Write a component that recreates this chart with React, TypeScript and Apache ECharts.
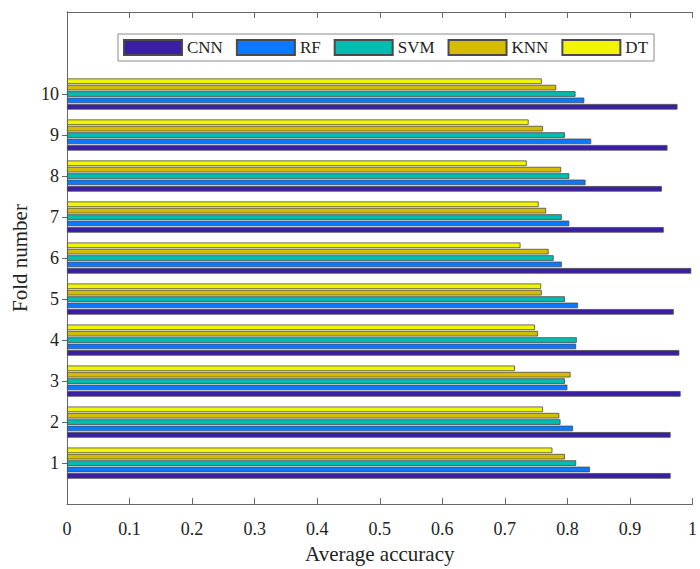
import React, { useEffect, useRef } from "react";
import * as echarts from "echarts";

// Fold numbers and the average accuracy of each classifier per fold
const folds = ["1", "2", "3", "4", "5", "6", "7", "8", "9", "10"];
const cnn = [0.965, 0.965, 0.981, 0.979, 0.97, 0.998, 0.954, 0.951, 0.96, 0.976];
const rf = [0.836, 0.809, 0.8, 0.814, 0.817, 0.791, 0.803, 0.829, 0.838, 0.827];
const svm = [0.814, 0.789, 0.796, 0.815, 0.796, 0.778, 0.791, 0.803, 0.796, 0.813];
const knn = [0.796, 0.787, 0.805, 0.753, 0.759, 0.77, 0.766, 0.79, 0.761, 0.782];
const dt = [0.776, 0.761, 0.716, 0.748, 0.758, 0.725, 0.754, 0.735, 0.738, 0.759];
const xTicks = ["0", "0.1", "0.2", "0.3", "0.4", "0.5", "0.6", "0.7", "0.8", "0.9", "1"];

const seriesDefs = [
  { name: "DT", values: dt, color: "#f2f500" },
  { name: "KNN", values: knn, color: "#d4bd00" },
  { name: "SVM", values: svm, color: "#00bdb0" },
  { name: "RF", values: rf, color: "#0a78ff" },
  { name: "CNN", values: cnn, color: "#3b1ea6" },
];
const legendOrder = ["CNN", "RF", "SVM", "KNN", "DT"];

// y runs from 0 to 12: fold slots 1..10 plus empty room below and above (legend)
const yCats = ["", ...folds, "", ""];
const isFold = (i: number) => i >= 1 && i <= folds.length;

const FONT = "Liberation Serif";

export default function App() {
  const ref = useRef<HTMLDivElement>(null);
  useEffect(() => {
    document.body.style.margin = "0";
    const chart = echarts.init(ref.current!, null, { renderer: "svg" });
    const frame = "#686868";
    chart.setOption({
      animation: false,
      backgroundColor: "#ffffff",
      textStyle: { fontFamily: FONT, color: "#222" },
      grid: { left: 67, top: 12, width: 634, height: 501, containLabel: false },
      legend: {
        data: legendOrder,
        left: 118,
        top: 34,
        itemWidth: 58,
        itemHeight: 15,
        itemGap: 13,
        padding: [5, 6, 5, 5],
        borderColor: "#8a8a8a",
        borderWidth: 1,
        backgroundColor: "#fff",
        icon: "rect",
        textStyle: { fontFamily: FONT, fontSize: 17, color: "#222", lineHeight: 17 },
      },
      xAxis: [
        {
          type: "value",
          min: 0,
          max: 1,
          interval: 0.1,
          name: "Average accuracy",
          nameLocation: "middle",
          nameGap: 37,
          nameTextStyle: { fontFamily: FONT, fontSize: 21, color: "#222" },
          axisLine: { show: true, lineStyle: { color: frame, width: 1 } },
          axisTick: { show: true, inside: true, length: 6, lineStyle: { color: frame } },
          axisLabel: {
            margin: 16,
            fontFamily: FONT,
            fontSize: 18,
            color: "#222",
            formatter: (v: number) => xTicks[Math.round(v * 10)],
          },
          splitLine: { show: false },
        },
        {
          type: "value",
          position: "top",
          min: 0,
          max: 1,
          interval: 0.1,
          axisLine: { show: true, lineStyle: { color: frame, width: 1 } },
          axisTick: { show: true, inside: true, length: 6, lineStyle: { color: frame } },
          axisLabel: { show: false },
          splitLine: { show: false },
        },
      ],
      yAxis: [
        {
          type: "category",
          data: yCats,
          boundaryGap: false,
          name: "Fold number",
          nameLocation: "middle",
          nameGap: 34,
          nameTextStyle: { fontFamily: FONT, fontSize: 21, color: "#222" },
          axisLine: { show: true, lineStyle: { color: frame, width: 1 } },
          axisTick: {
            show: true,
            inside: true,
            length: 5,
            interval: (i: number) => isFold(i),
            lineStyle: { color: frame },
          },
          axisLabel: {
            margin: 8,
            fontFamily: FONT,
            fontSize: 18,
            color: "#222",
            interval: (i: number) => isFold(i),
          },
          splitLine: { show: false },
        },
        {
          type: "category",
          data: yCats,
          boundaryGap: false,
          position: "right",
          axisLine: { show: true, lineStyle: { color: frame, width: 1 } },
          axisTick: {
            show: true,
            inside: true,
            length: 5,
            interval: (i: number) => isFold(i),
            lineStyle: { color: frame },
          },
          axisLabel: { show: false },
          splitLine: { show: false },
        },
      ],
      series: seriesDefs.map((s) => ({
        name: s.name,
        type: "bar",
        xAxisIndex: 0,
        yAxisIndex: 0,
        barWidth: 5.6,
        barGap: "14%",
        data: [null, ...s.values, null, null],
        itemStyle: { color: s.color, borderColor: "#4a4a4a", borderWidth: 0.8 },
      })),
    });
    return () => chart.dispose();
  }, []);
  return <div ref={ref} style={{ width: 700, height: 569 }} />;
}
